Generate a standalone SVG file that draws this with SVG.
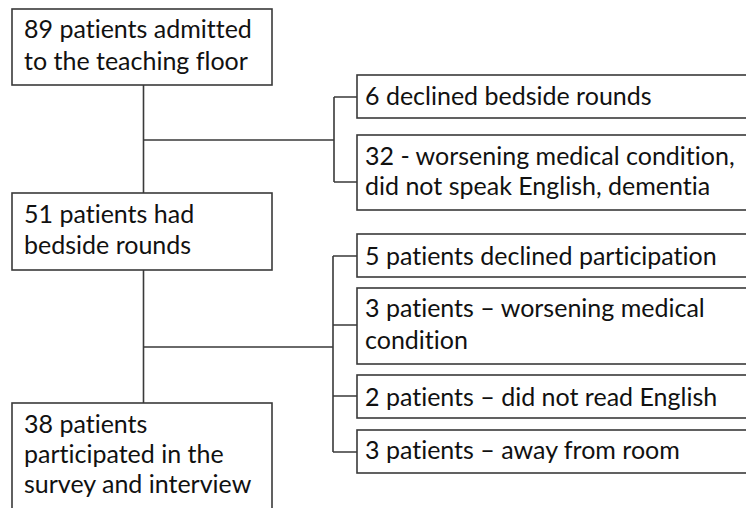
<svg xmlns="http://www.w3.org/2000/svg" width="746" height="508" viewBox="0 0 746 508">
<style>
.box{fill:#fff;stroke:#3a3a3a;stroke-width:1.6}
.ln{fill:none;stroke:#3a3a3a;stroke-width:1.6}
text{font-family:Lato,"Open Sans","Liberation Sans",sans-serif;font-size:25px;fill:#111;font-variant-ligatures:none}
</style>
<rect width="746" height="508" fill="#fff"/>
<g id="connectors">
<path class="ln" d="M143.5 85V193M143.5 270V403"/>
<path class="ln" d="M143.5 140H334M334 97V182M334 97H357M334 182H357"/>
<path class="ln" d="M143.5 347H333M333 256V452M333 256H357M333 325H357M333 396H357M333 452H357"/>
</g>
<g id="n1"><rect class="box" x="12" y="9" width="260" height="76"/><text x="24" y="38">89 patients admitted</text><text x="24" y="70">to the teaching floor</text></g>
<g id="n2"><rect class="box" x="12" y="193" width="260" height="77"/><text x="24" y="223">51 patients had</text><text x="24" y="254">bedside rounds</text></g>
<g id="n3"><rect class="box" x="12" y="403" width="260" height="120"/><text x="24" y="433">38 patients</text><text x="24" y="463">participated in the</text><text x="24" y="493">survey and interview</text></g>
<g id="r1"><rect class="box" x="357" y="75" width="400" height="43"/><text x="365" y="105">6 declined bedside rounds</text></g>
<g id="r2"><rect class="box" x="357" y="135" width="400" height="75"/><text x="365" y="165">32 - worsening medical condition,</text><text x="365" y="195">did not speak English, dementia</text></g>
<g id="r3"><rect class="box" x="357" y="234" width="400" height="43"/><text x="365" y="265">5 patients declined participation</text></g>
<g id="r4"><rect class="box" x="357" y="288" width="400" height="76"/><text x="365" y="317">3 patients – worsening medical</text><text x="365" y="349">condition</text></g>
<g id="r5"><rect class="box" x="357" y="375" width="400" height="43"/><text x="365" y="406">2 patients – did not read English</text></g>
<g id="r6"><rect class="box" x="357" y="430" width="400" height="43"/><text x="365" y="459">3 patients – away from room</text></g>
</svg>
